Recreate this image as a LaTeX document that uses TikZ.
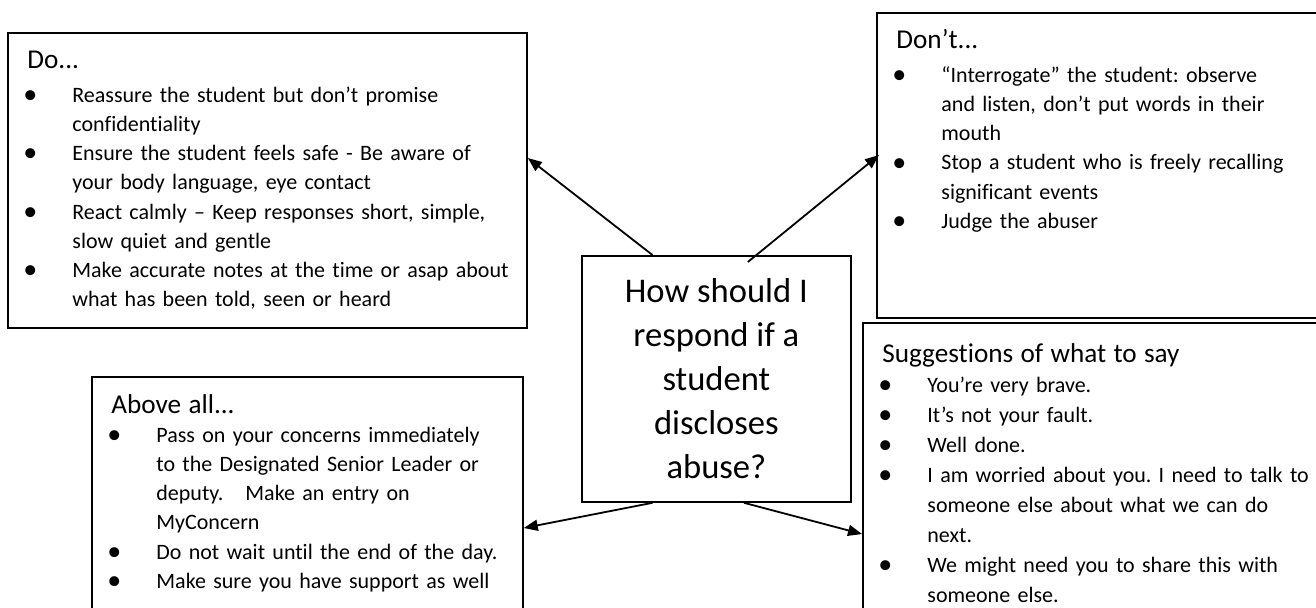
\documentclass[tikz,border=0pt]{standalone}
\usepackage{fontspec}
\setmainfont{Carlito}[Ligatures=NoCommon]
\usetikzlibrary{arrows.meta,calc,positioning}
\frenchspacing
\newcommand{\bodyfont}{\fontsize{11}{14.6}\selectfont}
\newcommand{\headfont}{\fontsize{13.6}{16}\selectfont}
\newcommand{\bitem}{\par\hangindent=22.5pt\hangafter=1\noindent\makebox[22.5pt][l]{\hspace{-2pt}\raisebox{-0.6pt}{\fontsize{14}{14}\selectfont\textbullet}}}
\tikzset{
  card/.style={draw, line width=0.9pt, inner sep=0, anchor=north west},
  cardtext/.style={anchor=base west, inner sep=0, text width=300pt, align=left, font=\bodyfont},
  arr/.style={-{Triangle[length=7pt,width=5.5pt]}, line width=0.9pt},
}

\begin{document}
\begin{tikzpicture}[x=0.5pt, y=-0.5pt]
    \useasboundingbox (0,0) rectangle (1316,607);
    \clip (0,0) rectangle (1316,607);
    % boxes
    \node[card, minimum width=259.5pt, minimum height=147.5pt] (do) at (7,32) {};
    \node[card, minimum width=230pt, minimum height=152.5pt] (dont) at (876,12) {};
    \node[card, minimum width=240pt, minimum height=160pt] (sugg) at (862,322) {};
    \node[card, minimum width=215.5pt, minimum height=130pt] (abv) at (91,376) {};
    \node[card, minimum width=134.5pt, minimum height=123pt, align=center,
          font=\fontsize{17.3}{22}\selectfont] (quest) at (581,255)
          {How should I\\respond if a\\student\\discloses\\abuse?};
    % box texts
    \node[cardtext] (dotext) at ($(do.north west)+(20,36)$) {%
        {\headfont Do...}\par\vspace{2.5pt}
        \bitem Reassure the student but don’t promise\newline confidentiality
        \bitem Ensure the student feels safe - Be aware of\newline your body language, eye contact
        \bitem React calmly – Keep responses short, simple,\newline slow quiet and gentle
        \bitem Make accurate notes at the time or asap about\newline what has been told, seen or heard\par};
    \node[cardtext] (donttext) at ($(dont.north west)+(20,36)$) {%
        {\headfont Don’t...}\par\vspace{2.5pt}
        \bitem “Interrogate” the student: observe\newline and listen, don’t put words in their\newline mouth
        \bitem Stop a student who is freely recalling\newline significant events
        \bitem Judge the abuser\par};
    \node[cardtext, font=\fontsize{11}{15}\selectfont] (suggtext) at ($(sugg.north west)+(20,40)$) {%
        {\headfont Suggestions of what to say}\par
        \bitem You’re very brave.
        \bitem It’s not your fault.
        \bitem Well done.
        \bitem I am worried about you. I need to talk to\newline someone else about what we can do\newline next.
        \bitem We might need you to share this with\newline someone else.\par};
    \node[cardtext] (abvtext) at ($(abv.north west)+(20,37)$) {%
        {\headfont Above all...}\par
        \bitem Pass on your concerns immediately\newline to the Designated Senior Leader or\newline deputy.\ \ \ Make an entry on\newline MyConcern
        \bitem Do not wait until the end of the day.
        \bitem Make sure you have support as well\par};
    % arrows
    \draw[arr] ($(quest.north west)!.264!(quest.north east)$) -- ([yshift=-63pt]do.north east);
    \draw[arr] ($(quest.north west)!.616!(quest.north east)+(0,7)$) -- ([xshift=1.5pt,yshift=-71.5pt]dont.north west);
    \draw[arr] ($(quest.south west)!.264!(quest.south east)$) -- ([yshift=-76pt]abv.north east);
    \draw[arr] ($(quest.south west)!.602!(quest.south east)$) -- ([yshift=-106pt]sugg.north west);
\end{tikzpicture}
\end{document}
